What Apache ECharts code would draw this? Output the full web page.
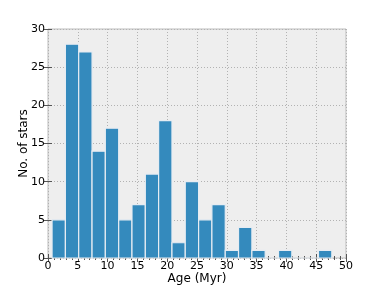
<!DOCTYPE html>
<html><head><meta charset="utf-8">
<script src="https://cdn.jsdelivr.net/npm/echarts@6/dist/echarts.min.js"></script>
<style>html,body{margin:0;padding:0;background:#fff}#c{width:384px;height:288px}</style>
</head><body><div id="c"></div>
<script>
// Histogram bin edges (Age, Myr) and counts per bin
var binEdges = [0.68, 2.92, 5.15, 7.39, 9.62, 11.86, 14.09, 16.33, 18.56, 20.80, 23.03, 25.27, 27.50, 29.74, 31.97, 34.21, 36.44, 38.68, 40.91, 43.15, 45.38, 47.62];
var counts = [5, 28, 27, 14, 17, 5, 7, 11, 18, 2, 10, 5, 7, 1, 4, 1, 0, 1, 0, 0, 1];
var xTicks = [0, 5, 10, 15, 20, 25, 30, 35, 40, 45, 50];
var yTicks = [0, 5, 10, 15, 20, 25, 30];
var xLabel = 'Age (Myr)';
var yLabel = 'No. of stars';

var data = counts.map(function (c, i) { return [binEdges[i], binEdges[i + 1], c]; });
var font = 'DejaVu Sans';
var chart = echarts.init(document.getElementById('c'), null, {renderer: 'canvas'});
var xCommon = {
  type: 'value', min: xTicks[0], max: xTicks[xTicks.length - 1], interval: 5,
  axisLine: {show: false},
  splitLine: {show: false},
  minorTick: {show: true, splitNumber: 5, length: 2, lineStyle: {color: '#555'}}
};
var yCommon = {
  type: 'value', min: yTicks[0], max: yTicks[yTicks.length - 1], interval: 5,
  axisLine: {show: false},
  splitLine: {show: false}
};
chart.setOption({
  animation: false,
  grid: {left: 48, right: 38, top: 29, bottom: 30, containLabel: false, outerBoundsMode: 'none',
         show: true, backgroundColor: '#eeeeee', borderColor: '#bcbcbc', borderWidth: 1},
  xAxis: [
    Object.assign({}, xCommon, {
      position: 'bottom',
      name: xLabel, nameLocation: 'middle', nameGap: 15, nameMoveOverlap: false,
      nameTextStyle: {fontFamily: font, fontSize: 12, color: '#000'},
      axisTick: {show: true, inside: true, length: 4, lineStyle: {color: '#555'}},
      axisLabel: {fontFamily: font, fontSize: 11, color: '#000', margin: 3},
      splitLine: {show: true, lineStyle: {color: '#b2b2b2', type: [1, 2], width: 1}}
    }),
    Object.assign({}, xCommon, {
      position: 'top',
      axisTick: {show: true, inside: true, length: 4, lineStyle: {color: '#555'}},
      axisLabel: {show: false}
    })
  ],
  yAxis: [
    Object.assign({}, yCommon, {
      position: 'left',
      name: yLabel, nameLocation: 'middle', nameGap: 18, nameMoveOverlap: false,
      nameTextStyle: {fontFamily: font, fontSize: 12, color: '#000'},
      axisTick: {show: true, inside: true, length: 4, lineStyle: {color: '#555'}},
      axisLabel: {fontFamily: font, fontSize: 11, color: '#000', margin: 3},
      splitLine: {show: true, lineStyle: {color: '#b2b2b2', type: [1, 2], width: 1}}
    }),
    Object.assign({}, yCommon, {
      position: 'right',
      axisTick: {show: true, inside: true, length: 4, lineStyle: {color: '#555'}},
      axisLabel: {show: false}
    })
  ],
  series: [{
    type: 'custom',
    xAxisIndex: 0, yAxisIndex: 0,
    data: data,
    encode: {x: [0, 1], y: 2},
    renderItem: function (params, api) {
      var p0 = api.coord([api.value(0), 0]);
      var p1 = api.coord([api.value(1), api.value(2)]);
      return {
        type: 'rect',
        shape: {x: p0[0], y: p1[1], width: p1[0] - p0[0], height: p0[1] - p1[1]},
        style: {fill: '#348ABD', stroke: '#e6ecf2', lineWidth: 1.2}
      };
    }
  }]
});
</script></body></html>
